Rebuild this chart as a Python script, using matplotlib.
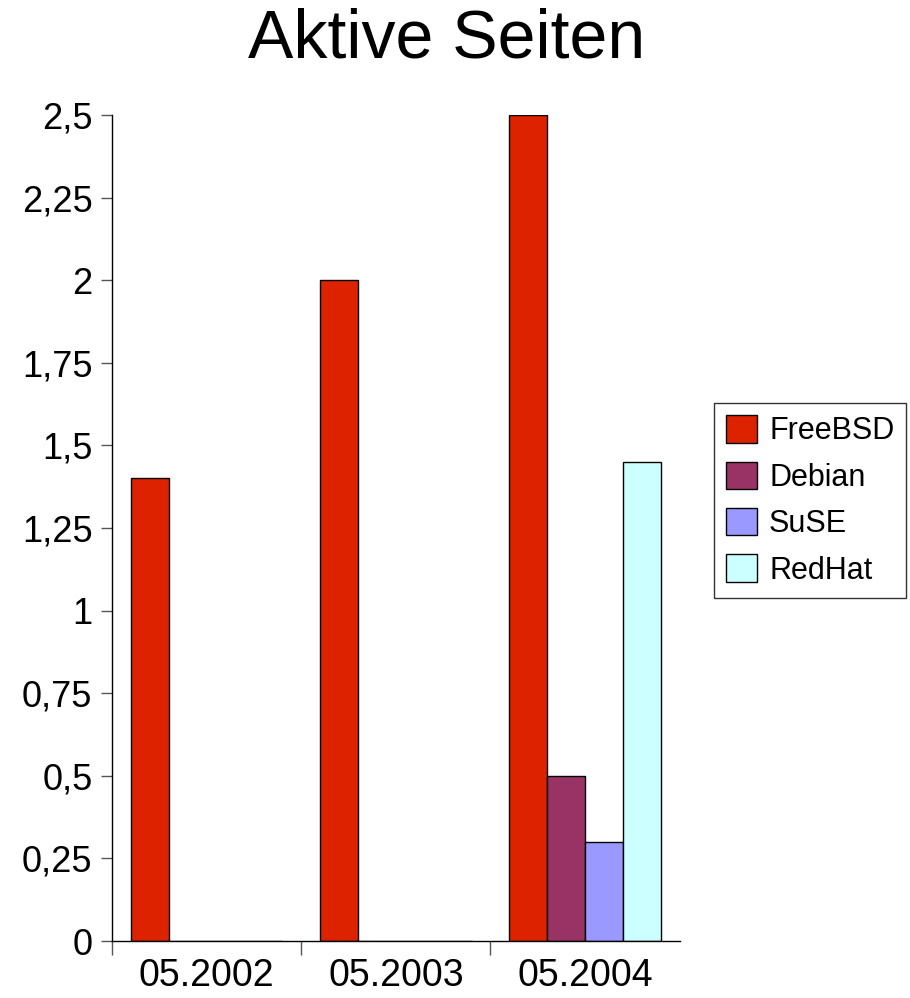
import matplotlib
matplotlib.use('Agg')
import matplotlib.pyplot as plt
from matplotlib.ticker import FuncFormatter, FixedLocator
import numpy as np

plt.rcParams['font.family'] = ['Liberation Sans', 'DejaVu Sans']

# ── Daten ────────────────────────────────────────────────
categories = ["05.2002", "05.2003", "05.2004"]
series = ["FreeBSD", "Debian", "SuSE", "RedHat"]
freebsd = [1.4, 2.0, 2.5]
debian = [0.0, 0.0, 0.5]
suse = [0.0, 0.0, 0.3]
redhat = [0.0, 0.0, 1.45]
colors = ["#dd2200", "#993366", "#9999ff", "#ccffff"]

values = [freebsd, debian, suse, redhat]

fig = plt.figure(figsize=(9.1, 9.98), dpi=100)
ax = fig.add_axes([0.123, 0.0571, 0.624, 0.8277])

x = np.arange(len(categories))
width = 0.2
handles = []
for i, (name, vals, c) in enumerate(zip(series, values, colors)):
    h = ax.bar(x + (i - 1.5) * width, vals, width, color=c,
               edgecolor='black', linewidth=1.0, label=name)
    handles.append(h)

ax.set_xlim(-0.5, 2.5)
ax.set_ylim(0, 2.5)

# y-Achse mit Komma als Dezimaltrenner
ax.set_yticks(np.arange(0, 2.51, 0.25))
ax.yaxis.set_major_formatter(FuncFormatter(lambda v, p: f"{v:g}".replace('.', ',')))
ax.tick_params(axis='y', labelsize=26, length=8, width=1, color='#555555', pad=6)

# x-Achse: Labels in der Mitte, Striche an den Gruppengrenzen
ax.set_xticks(x)
ax.set_xticklabels(categories)
ax.tick_params(axis='x', which='major', length=0, labelsize=27, pad=12)
ax.xaxis.set_minor_locator(FixedLocator([-0.5, 0.5, 1.5]))
ax.tick_params(axis='x', which='minor', length=10, width=1, color='#555555')

ax.spines['top'].set_visible(False)
ax.spines['right'].set_visible(False)
for s in ('left', 'bottom'):
    ax.spines[s].set_linewidth(1.0)
    ax.spines[s].set_color('black')

fig.text(447 / 910, 1 - 40 / 998, "Aktive Seiten", fontsize=49,
         ha='center', va='center')

leg = fig.legend(handles=handles, labels=series, loc='upper left',
                 bbox_to_anchor=(714 / 910, 1 - 403 / 998), fontsize=22,
                 fancybox=False, shadow=False, frameon=True,
                 handlelength=1.0, handleheight=1.0, handletextpad=0.4,
                 borderpad=0.4, labelspacing=0.5, borderaxespad=0)
leg.get_frame().set_edgecolor('black')
leg.get_frame().set_linewidth(1.0)

fig.savefig("out.png", dpi=100)
